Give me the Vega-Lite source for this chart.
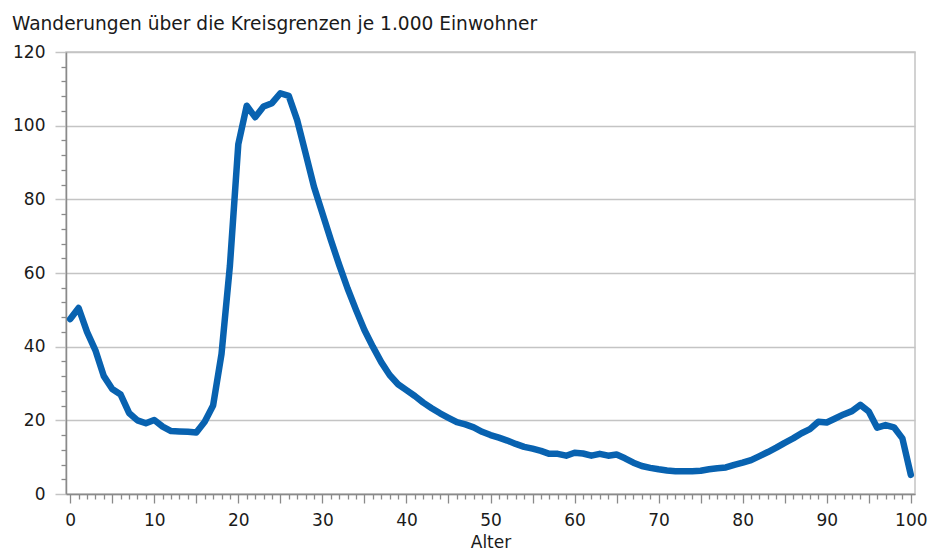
{
  "$schema": "https://vega.github.io/schema/vega-lite/v6.json",
  "autosize": "none",
  "width": 849,
  "height": 442,
  "padding": {"left": 66, "top": 52, "right": 13, "bottom": 57},
  "background": "white",
  "config": {
    "view": {"stroke": "#c4c4c4", "strokeWidth": 1.5},
    "font": "DejaVu Sans",
    "axis": {"labelFont": "DejaVu Sans", "titleFont": "DejaVu Sans", "labelColor": "#1a1a1a", "titleColor": "#1a1a1a", "labelFontSize": 17, "titleFontSize": 17, "titleFontWeight": "normal"}
  },
  "title": {
    "text": "Wanderungen über die Kreisgrenzen je 1.000 Einwohner",
    "anchor": "start",
    "frame": "group",
    "dx": -54,
    "offset": 14,
    "dy": 20,
    "fontSize": 18.6,
    "fontWeight": "normal",
    "font": "DejaVu Sans",
    "color": "#1a1a1a",
    "baseline": "alphabetic"
  },
  "data": {
    "values": [
      {"alter": 0, "wert": 47.5}, {"alter": 1, "wert": 50.5}, {"alter": 2, "wert": 44}, {"alter": 3, "wert": 39}, {"alter": 4, "wert": 32},
      {"alter": 5, "wert": 28.5}, {"alter": 6, "wert": 27}, {"alter": 7, "wert": 22}, {"alter": 8, "wert": 20}, {"alter": 9, "wert": 19.2},
      {"alter": 10, "wert": 20.1}, {"alter": 11, "wert": 18.3}, {"alter": 12, "wert": 17.1}, {"alter": 13, "wert": 17.0}, {"alter": 14, "wert": 16.9},
      {"alter": 15, "wert": 16.7}, {"alter": 16, "wert": 19.6}, {"alter": 17, "wert": 24}, {"alter": 18, "wert": 38}, {"alter": 19, "wert": 62},
      {"alter": 20, "wert": 95}, {"alter": 21, "wert": 105.4}, {"alter": 22, "wert": 102.3}, {"alter": 23, "wert": 105.2}, {"alter": 24, "wert": 106.1},
      {"alter": 25, "wert": 108.8}, {"alter": 26, "wert": 108.1}, {"alter": 27, "wert": 101.5}, {"alter": 28, "wert": 92.5}, {"alter": 29, "wert": 83.4},
      {"alter": 30, "wert": 76.2}, {"alter": 31, "wert": 69.0}, {"alter": 32, "wert": 62.2}, {"alter": 33, "wert": 55.8}, {"alter": 34, "wert": 50.0},
      {"alter": 35, "wert": 44.5}, {"alter": 36, "wert": 40.0}, {"alter": 37, "wert": 35.8}, {"alter": 38, "wert": 32.3}, {"alter": 39, "wert": 29.8},
      {"alter": 40, "wert": 28.2}, {"alter": 41, "wert": 26.6}, {"alter": 42, "wert": 24.8}, {"alter": 43, "wert": 23.3}, {"alter": 44, "wert": 21.9},
      {"alter": 45, "wert": 20.7}, {"alter": 46, "wert": 19.5}, {"alter": 47, "wert": 18.9}, {"alter": 48, "wert": 18.1}, {"alter": 49, "wert": 16.9},
      {"alter": 50, "wert": 16.0}, {"alter": 51, "wert": 15.3}, {"alter": 52, "wert": 14.5}, {"alter": 53, "wert": 13.6}, {"alter": 54, "wert": 12.8},
      {"alter": 55, "wert": 12.3}, {"alter": 56, "wert": 11.7}, {"alter": 57, "wert": 10.9}, {"alter": 58, "wert": 10.9}, {"alter": 59, "wert": 10.4},
      {"alter": 60, "wert": 11.2}, {"alter": 61, "wert": 11.0}, {"alter": 62, "wert": 10.4}, {"alter": 63, "wert": 10.9}, {"alter": 64, "wert": 10.4},
      {"alter": 65, "wert": 10.7}, {"alter": 66, "wert": 9.7}, {"alter": 67, "wert": 8.5}, {"alter": 68, "wert": 7.6}, {"alter": 69, "wert": 7.1},
      {"alter": 70, "wert": 6.7}, {"alter": 71, "wert": 6.4}, {"alter": 72, "wert": 6.2}, {"alter": 73, "wert": 6.2}, {"alter": 74, "wert": 6.2},
      {"alter": 75, "wert": 6.3}, {"alter": 76, "wert": 6.7}, {"alter": 77, "wert": 7.0}, {"alter": 78, "wert": 7.2}, {"alter": 79, "wert": 7.9},
      {"alter": 80, "wert": 8.5}, {"alter": 81, "wert": 9.2}, {"alter": 82, "wert": 10.3}, {"alter": 83, "wert": 11.4}, {"alter": 84, "wert": 12.6},
      {"alter": 85, "wert": 13.9}, {"alter": 86, "wert": 15.1}, {"alter": 87, "wert": 16.5}, {"alter": 88, "wert": 17.6}, {"alter": 89, "wert": 19.6},
      {"alter": 90, "wert": 19.4}, {"alter": 91, "wert": 20.5}, {"alter": 92, "wert": 21.6}, {"alter": 93, "wert": 22.5}, {"alter": 94, "wert": 24.2},
      {"alter": 95, "wert": 22.4}, {"alter": 96, "wert": 18.0}, {"alter": 97, "wert": 18.7}, {"alter": 98, "wert": 18.1}, {"alter": 99, "wert": 15.1},
      {"alter": 100, "wert": 5.2}
    ]
  },
  "layer": [
    {
      "mark": {"type": "line", "opacity": 0},
      "encoding": {
        "x": {
          "field": "alter", "type": "quantitative",
          "scale": {"domain": [-0.5, 100.5], "nice": false, "zero": false},
          "axis": {"orient": "bottom", "values": [1,2,3,4,6,7,8,9,11,12,13,14,16,17,18,19,21,22,23,24,26,27,28,29,31,32,33,34,36,37,38,39,41,42,43,44,46,47,48,49,51,52,53,54,56,57,58,59,61,62,63,64,66,67,68,69,71,72,73,74,76,77,78,79,81,82,83,84,86,87,88,89,91,92,93,94,96,97,98,99], "labels": false, "domain": false, "grid": false, "tickSize": 5, "tickColor": "#8a8a8a", "tickWidth": 1.3, "title": null}
        },
        "y": {
          "field": "wert", "type": "quantitative",
          "scale": {"domain": [0, 120], "nice": false},
          "axis": {"orient": "left", "values": [4,8,12,16,24,28,32,36,44,48,52,56,64,68,72,76,84,88,92,96,104,108,112,116], "labels": false, "domain": false, "grid": false, "tickSize": 5, "tickColor": "#8a8a8a", "tickWidth": 1.3, "title": null}
        }
      }
    },
    {
      "mark": {"type": "line", "color": "#0862b0", "strokeWidth": 6.5, "strokeJoin": "round", "strokeCap": "round"},
      "encoding": {
        "x": {
          "field": "alter", "type": "quantitative",
          "axis": {"orient": "bottom", "values": [0,5,10,15,20,25,30,35,40,45,50,55,60,65,70,75,80,85,90,95,100], "labelExpr": "datum.value % 10 == 0 ? datum.label : ''", "grid": false, "domainColor": "#8a8a8a", "domainWidth": 1.5, "tickColor": "#8a8a8a", "tickWidth": 1.3, "tickSize": 9, "labelPadding": 9, "labelFlush": false, "labelOverlap": false, "title": "Alter", "titlePadding": 6}
        },
        "y": {
          "field": "wert", "type": "quantitative",
          "axis": {"orient": "left", "values": [0,20,40,60,80,100,120], "grid": true, "gridColor": "#c4c4c4", "gridWidth": 1.5, "domainColor": "#8a8a8a", "domainWidth": 1.5, "tickColor": "#c4c4c4", "tickWidth": 1.5, "tickSize": 11, "labelPadding": 10, "title": null}
        }
      }
    }
  ],
  "resolve": {"axis": {"x": "independent", "y": "independent"}}
}
